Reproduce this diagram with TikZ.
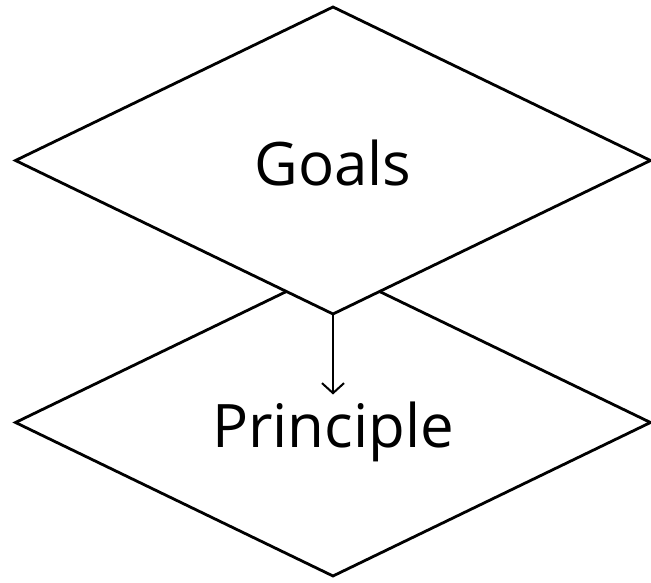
\documentclass[tikz,border=0pt]{standalone}
\usepackage{fontspec}
\setmainfont{Open Sans}
\usetikzlibrary{arrows.meta,positioning,shapes.geometric,backgrounds}
\tikzset{
  layerbox/.style={diamond, draw, line width=2.8pt, fill=white,
    minimum width=635pt, minimum height=307pt, inner sep=0pt, outer sep=0pt,
    text height=50pt, text depth=0pt, font=\fontsize{60}{62}\selectfont},
  arr/.style={-{Straight Barb[length=10pt,width=22pt,line width=2pt]}, line width=2pt},
}

\begin{document}
\begin{tikzpicture}[x=1pt,y=1pt]
  \useasboundingbox (0,0) rectangle (651,583);
  % top layer
  \node[layerbox] (goals) at (333,422.5) {Goals};
  % lower layer, partly hidden by the top one
  \begin{scope}[on background layer]
    \node[layerbox, below=-45pt of goals] (principle) {Principle};
  \end{scope}

  % Arrow
  \draw[arr, shorten >=28pt] (goals.south) -- (principle.center);
\end{tikzpicture}
\end{document}
